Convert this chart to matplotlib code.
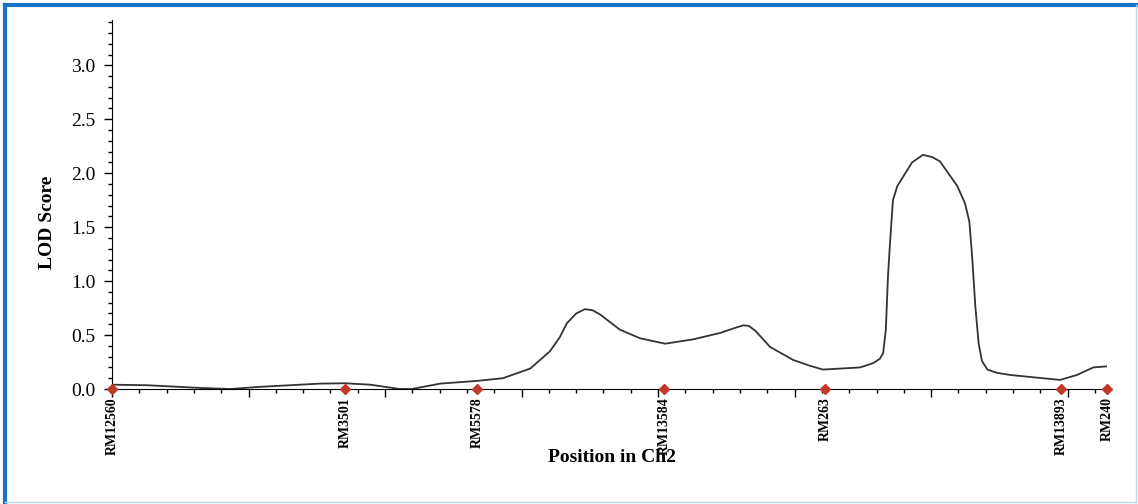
import numpy as np
import matplotlib
matplotlib.use("Agg")
import matplotlib.pyplot as plt
from matplotlib.ticker import MultipleLocator, FormatStrFormatter
from matplotlib.lines import Line2D

# LOD profile along chromosome 2 (position in cM, LOD)
pos = [0, 6.4, 16.1, 21.6, 27.1, 38.1, 42.7, 47.3, 52.7, 54.9, 60.1, 66.8,
       71.6, 76.6, 80.2, 82.0, 83.3, 85.0, 86.6, 88.0, 89.4, 91.2, 93.0, 96.7,
       101.3, 106.4, 111.4, 114.0, 115.6, 116.6, 117.8, 120.5, 124.7, 127.5,
       130.2, 137.0, 139.4, 140.6, 141.2, 141.7, 142.1, 142.5, 143.0, 143.8,
       144.9, 146.5, 148.5, 150.2, 151.6, 154.8, 156.2, 157.0, 157.5, 158.1,
       158.7, 159.3, 160.3, 162.0, 164.5, 173.6, 176.7, 179.7, 182.2]
lod = [0.04, 0.035, 0.01, 0.0, 0.02, 0.05, 0.053, 0.04, 0.0, 0.0, 0.05, 0.075,
       0.10, 0.19, 0.35, 0.48, 0.61, 0.70, 0.74, 0.73, 0.69, 0.62, 0.55, 0.47,
       0.42, 0.46, 0.52, 0.565, 0.59, 0.585, 0.54, 0.39, 0.27, 0.22,
       0.18, 0.20, 0.24, 0.28, 0.33, 0.55, 1.05, 1.38, 1.75, 1.88,
       1.97, 2.10, 2.17, 2.15, 2.11, 1.88, 1.72, 1.55, 1.23, 0.76,
       0.42, 0.26, 0.18, 0.15, 0.13, 0.084, 0.13, 0.20, 0.21]

# markers
marker_names = ["RM12560", "RM3501", "RM5578", "RM13584", "RM263", "RM13893", "RM240"]
marker_pos = [0, 42.7, 66.8, 101.1, 130.6, 173.8, 182.2]

plt.rcParams["font.family"] = "Liberation Serif"

fig = plt.figure(figsize=(11.38, 5.04), dpi=100)
ax = fig.add_axes([112 / 1138, 115 / 504, 995 / 1138, 369 / 504])

ax.plot(pos, lod, color="#333333", lw=1.3, solid_joinstyle="round")
ax.plot(marker_pos, [0] * len(marker_pos), ls="none", marker="D", ms=5.5,
        color="#c0392b", clip_on=False, zorder=5)

for name, p in zip(marker_names, marker_pos):
    ax.annotate(name, xy=(p, 0), xycoords="data", xytext=(0, -6),
                textcoords="offset points", rotation=90, ha="center", va="top",
                fontsize=10, fontweight="bold", annotation_clip=False)

ax.set_xlim(0, 182.2)
ax.set_ylim(0, 3.42)
ax.spines["top"].set_visible(False)
ax.spines["right"].set_visible(False)

ax.xaxis.set_major_locator(MultipleLocator(25))
ax.xaxis.set_minor_locator(MultipleLocator(5))
ax.tick_params(axis="x", which="major", length=6, width=1, labelbottom=False)
ax.tick_params(axis="x", which="minor", length=3, width=1)

ax.yaxis.set_major_locator(MultipleLocator(0.5))
ax.yaxis.set_minor_locator(MultipleLocator(0.1))
ax.yaxis.set_major_formatter(FormatStrFormatter("%.1f"))
ax.tick_params(axis="y", which="major", length=6, width=1, labelsize=14, pad=6)
ax.tick_params(axis="y", which="minor", length=3, width=1)

fig.text(47 / 1138, (504 - 222) / 504, "LOD Score", rotation=90, ha="center",
         va="center", fontsize=14, fontweight="bold")
fig.text(612 / 1138, (504 - 457) / 504, "Position in Ch2", ha="center",
         va="center", fontsize=14, fontweight="bold")

# frame around the picture
fig.add_artist(Line2D([5 / 1138, 5 / 1138], [0, 1 - 5 / 504], transform=fig.transFigure,
                      color="#1a73c4", lw=3))
fig.add_artist(Line2D([5 / 1138, 1], [1 - 5 / 504, 1 - 5 / 504], transform=fig.transFigure,
                      color="#1a73c4", lw=3))
fig.add_artist(Line2D([1135.5 / 1138, 1135.5 / 1138], [2 / 504, 1 - 5 / 504],
                      transform=fig.transFigure, color="#b9d7ee", lw=1))
fig.add_artist(Line2D([5 / 1138, 1135.5 / 1138], [2 / 504, 2 / 504],
                      transform=fig.transFigure, color="#b9d7ee", lw=1))

fig.savefig("out.png", dpi=100)
